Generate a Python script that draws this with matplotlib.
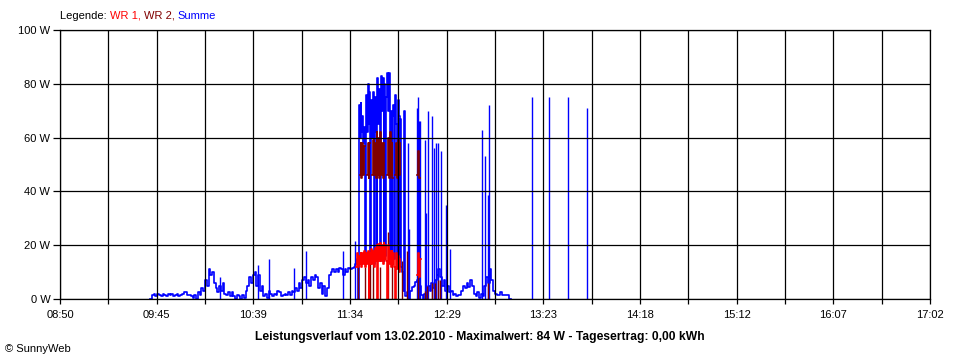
import matplotlib
matplotlib.use('Agg')
import matplotlib.pyplot as plt

import numpy as np

plt.rcParams['font.family'] = ['Liberation Sans', 'DejaVu Sans']
plt.rcParams['font.size'] = 8

DARKRED = '#800000'

# Zeit in Minuten seit Mitternacht (08:50 .. 17:02)
t_left, t_right = 530, 1022
x_labels = ['08:50', '09:45', '10:39', '11:34', '12:29',
            '13:23', '14:18', '15:12', '16:07', '17:02']
y_ticks = [0, 20, 40, 60, 80, 100]

# Summe: ein Wert pro Minute, 09:41 .. 11:38
sum_t1 = np.arange(581, 699)
sum_w1 = [0,
          1.5, 1.8, 1.2, 1.8, 1.5, 1.2, 1.8, 1.5, 1.2, 1.8, 1.5, 1.8, 1.2, 1.5, 1.8, 1.2, 1.5, 1.8,
          2.5, 2.5, 1.5, 1.5, 1, 0.5, 1.5, 0, 2.5, 1.5,
          4, 3, 7, 5, 11, 9, 10, 6, 4, 2.5,
          5, 3, 6, 2, 1.5, 2.5, 1, 2.5, 1, 0,
          1.5, 1, 0, 1.5, 0.5, 3, 5, 8, 6, 9,
          10, 5, 9, 3, 5, 1, 2, 0.5, 3, 2,
          1, 2, 1.5, 3, 2.5, 1, 1.5, 2, 1.5, 2.5,
          1.5, 3, 2.5, 4, 3, 6, 4, 7, 8, 6,
          7, 5, 8, 7, 9, 8, 4, 6, 2, 5,
          1, 4, 9, 10, 11, 10, 11, 10, 11.5, 11,
          9, 11, 10, 11.5, 11, 11.5, 12, 13, 15]

# Summe: halbminuetlich 11:38:30 .. 12:04:30
sum_t2 = np.arange(698.5, 725, 0.5)
sum_w2 = [0, 72, 60, 73, 62, 68, 58, 64, 15, 76,
          62, 80, 65, 77, 14, 74, 60, 77, 13, 75,
          62, 16, 82, 65, 78, 14, 83, 70, 82, 14,
          80, 16, 75, 84, 70, 84, 14, 70, 14, 68,
          72, 15, 76, 65, 12, 74, 68, 14, 67, 12,
          10, 3, 70]

# Summe: ein Wert pro Minute, 12:05 .. 13:05
sum_t3 = np.arange(725, 786)
sum_w3 = [1, 2.5, 0, 3, 4.5, 5, 6.5, 7, 5, 1.5,
          0, 2, 3.5, 5, 3, 6, 4, 7, 9, 11,
          8, 5, 7, 3, 5, 2.5, 3, 1.5, 2, 1,
          1.5, 1.5, 3, 5, 4, 6, 4.5, 7, 5, 2,
          1, 2.5, 0.5, 2, 1, 5, 8, 6, 11, 7,
          3, 2, 1.5, 1.5, 2.5, 1.5, 1.5, 1.5, 1.5, 0, 0]

# Summe: einzelne Spitzen
spike_t = [620.5, 642.0, 648.2, 662.3, 669.1, 690.0, 696.8,
           726.8, 727.4, 731.9, 732.4, 732.9, 733.4, 736.4, 737.0, 738.1,
           740.4, 741.5, 742.7, 743.8, 745.5, 748.3, 750.5,
           768.6, 770.3, 772.0, 772.5,
           796.9, 806.5, 817.3, 828.0]
spike_w = [8, 12.6, 15, 11.5, 18, 18, 21.5,
           58, 26, 71, 75, 66, 66, 59, 32, 70,
           68, 56, 58, 58, 55, 35, 18.6,
           63, 53, 38.7, 72,
           75, 75, 75, 71]

# WR 2
wr2_t = np.concatenate([np.arange(699.5, 723, 0.5), [732, 732.5, 733, 733.5]])
wr2_w = [46, 58, 45, 58, 46, 57, np.nan, np.nan, 46, 58,
         45, 58, np.nan, np.nan, 46, 59, 46, 58, 45, 62,
         46, 60, 45, 62, 46, 58, 45, 58, np.nan, np.nan,
         np.nan, 46, 60, 45, 62, 46, 58, 45, np.nan, np.nan,
         46, 58, 45, 59, 46, 58, np.nan,
         46, 55, 45, np.nan]
wr2_low_t = [698.5, 702.5, 705.3, 707.2, 711.0, 715.5, 717.8, 723.5, 726.3,
             732.5, 736.6, 737.6, 740.4, 742.0, 743.8, 744.9, 772.0]
wr2_low_w = [12, 12, 14, 13, 12, 25, 15, 14, 18,
             10, 3, 5, 6, 6, 7, 7, 6]

# WR 1
wr1_t = np.concatenate([np.arange(697.5, 723, 0.5), [732, 732.5, 733, 733.5, 734]])
wr1_w = [12, 17, 12, 16, 13, 17, 12, 17, 13, 18,
         12, 17, 13, 18, 0, 17, 13, 18.5, 13, 18,
         12, 19, 14, 20, 0, 20.5, 14, 21, 14, 20,
         13, 21, 15, 20, 14, 0, 20, 13, 18, 12,
         18, 13, 17, 12, 0, 17, 11, 16, 10, 15, np.nan,
         9, 17, 8, 15, np.nan]

fig = plt.figure(figsize=(9.6, 3.6), dpi=100)
ax = fig.add_axes([60 / 960, 1 - 299 / 360, 870 / 960, 269 / 360])

sum_t = np.concatenate([sum_t1, sum_t2, sum_t3])
sum_w = np.concatenate([sum_w1, sum_w2, sum_w3])
lw = 1.2
ax.plot(sum_t, sum_w, drawstyle='steps-post', color='#0000ff', lw=lw, zorder=2)
ax.vlines(spike_t, 0, spike_w, color='#0000ff', lw=1.0, zorder=2)
ax.vlines(wr2_low_t, 0, wr2_low_w, color=DARKRED, lw=1.0, zorder=2)
ax.plot(wr2_t, wr2_w, drawstyle='steps-post', color=DARKRED, lw=lw, zorder=2)
ax.plot(wr1_t, wr1_w, drawstyle='steps-post', color='#ff0000', lw=lw, zorder=2)

ax.set_xlim(t_left, t_right)
ax.set_ylim(0, 100)
grid_x = np.linspace(t_left, t_right, 19)
ax.set_xticks(grid_x)
ax.set_xticklabels([x_labels[i // 2] if i % 2 == 0 else '' for i in range(19)])
ax.set_yticks(y_ticks)
ax.set_yticklabels(['%d W' % v for v in y_ticks])
ax.grid(True, color='black', lw=0.9)
ax.set_axisbelow(False)
for s in ax.spines.values():
    s.set_color('black')
    s.set_linewidth(0.9)
ax.tick_params(axis='x', length=3.6, width=0.9, pad=4, labelsize=8)
ax.tick_params(axis='y', length=5, width=0.9, pad=2, labelsize=8)

fig.text(0.5, 1 - 337 / 360,
         'Leistungsverlauf vom 13.02.2010 - Maximalwert: 84 W - Tagesertrag: 0,00 kWh',
         ha='center', va='center', fontweight='bold', fontsize=8.7)
fig.text(5 / 960, 1 - 349 / 360, '\u00a9 SunnyWeb', ha='left', va='center', fontsize=8)

# Legende mit farbigen Teilen
fig.canvas.draw()
renderer = fig.canvas.get_renderer()
x = 60 / 960
for s, c in [('Legende: ', 'black'), ('WR 1, ', '#ff0000'),
             ('WR 2, ', DARKRED), ('Summe', '#0000ff')]:
    t = fig.text(x, 1 - 16 / 360, s, color=c, ha='left', va='center', fontsize=8)
    bb = t.get_window_extent(renderer)
    x += bb.width / fig.bbox.width

fig.savefig('out.png', dpi=100)
